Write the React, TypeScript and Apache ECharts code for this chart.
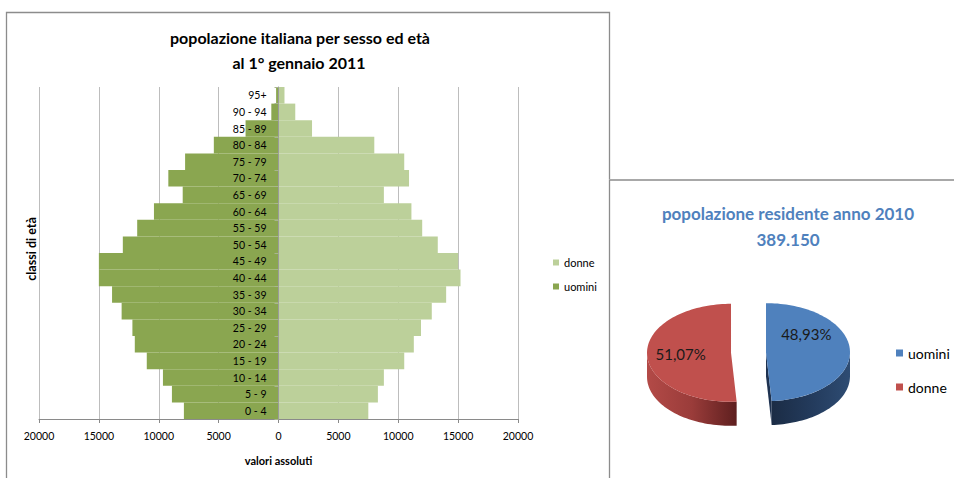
import React, { useEffect, useRef } from 'react';
import * as echarts from 'echarts';

// Age classes, bottom to top
const ageClasses = [
  '0 - 4', '5 - 9', '10 - 14', '15 - 19', '20 - 24', '25 - 29', '30 - 34', '35 - 39',
  '40 - 44', '45 - 49', '50 - 54', '55 - 59', '60 - 64', '65 - 69', '70 - 74', '75 - 79',
  '80 - 84', '85 - 89', '90 - 94', '95+',
];
// Residents per age class (absolute values)
const uomini = [7900, 8900, 9650, 11000, 12000, 12200, 13100, 13900, 15000, 15000, 13000, 11800, 10400, 8000, 9200, 7800, 5400, 2750, 600, 200];
const donne = [7500, 8300, 8800, 10500, 11300, 11900, 12800, 14000, 15200, 15000, 13300, 12000, 11100, 8800, 10900, 10500, 8000, 2800, 1400, 500];

// Value axis range
const axisMin = -20000;
const axisMax = 20000;
const axisStep = 5000;

// Resident population split by sex (%)
const pieNames = ['uomini', 'donne'];
const pieShares = [48.93, 51.07];
const totaleResidenti = '389.150';

const FONT = 'Lato, "Open Sans", "DejaVu Sans", sans-serif';

// plot area of the pyramid, in page pixels
const PLOT_LEFT = 39;
const PLOT_RIGHT = 518;
const PLOT_TOP = 87;
const PLOT_BOTTOM = 419;

function pyramidOption(): any {
  const zeroX = PLOT_LEFT + ((0 - axisMin) / (axisMax - axisMin)) * (PLOT_RIGHT - PLOT_LEFT);
  return {
    animation: false,
    backgroundColor: '#ffffff',
    textStyle: { fontFamily: FONT },
    grid: {
      left: PLOT_LEFT,
      right: 954 - PLOT_RIGHT,
      top: PLOT_TOP,
      bottom: 478 - PLOT_BOTTOM,
      containLabel: false,
      outerBoundsMode: 'none',
    },
    legend: {
      orient: 'vertical',
      left: 553,
      top: 257,
      padding: 0,
      icon: 'rect',
      itemWidth: 6,
      itemHeight: 6,
      itemGap: 13,
      itemTextGap: 4,
      data: ['donne', 'uomini'],
      textStyle: { fontSize: 11, color: '#000', fontFamily: FONT },
    },
    xAxis: {
      type: 'value',
      min: axisMin,
      max: axisMax,
      interval: axisStep,
      axisLine: { show: true, onZero: false, lineStyle: { color: '#8a8a8a', width: 1 } },
      axisTick: { show: true, length: 4, lineStyle: { color: '#8a8a8a' } },
      axisLabel: {
        formatter: (v: number) => String(Math.abs(v)),
        fontSize: 10.5,
        color: '#000',
        margin: 11,
        fontFamily: FONT,
      },
      splitLine: { show: true, lineStyle: { color: '#bdbdbd', width: 1 } },
      name: 'valori assoluti',
      nameLocation: 'middle',
      nameGap: 36,
      nameTextStyle: { fontWeight: 'bold', fontSize: 11, color: '#000', fontFamily: FONT },
    },
    yAxis: {
      type: 'category',
      data: ageClasses,
      position: 'left',
      offset: -(zeroX - PLOT_LEFT),
      z: 5,
      axisLine: { show: true, onZero: false, lineStyle: { color: '#9a9a9a' } },
      axisTick: { show: true, length: 4, lineStyle: { color: '#a8b58f' } },
      axisLabel: { fontSize: 10.5, color: '#000', margin: 12, fontFamily: FONT },
      splitLine: { show: false },
    },
    series: [
      {
        name: 'uomini',
        type: 'bar',
        stack: 'eta',
        barCategoryGap: '0%',
        data: uomini.map((v) => -v),
        itemStyle: { color: '#8AA650' },
      },
      {
        name: 'donne',
        type: 'bar',
        stack: 'eta',
        barCategoryGap: '0%',
        data: donne,
        itemStyle: { color: '#BCD09A' },
      },
    ],
    graphic: [
      {
        type: 'rect',
        shape: { x: 6.5, y: 12.5, width: 603, height: 490 },
        style: { fill: 'none', stroke: '#8c8c8c', lineWidth: 1.3 },
        silent: true,
      },
      {
        type: 'text',
        x: 300,
        y: 37,
        style: {
          text: 'popolazione italiana per sesso ed età',
          align: 'center',
          verticalAlign: 'middle',
          font: `bold 16px ${FONT}`,
          fill: '#000',
        },
      },
      {
        type: 'text',
        x: 299,
        y: 62,
        style: {
          text: 'al 1° gennaio 2011',
          align: 'center',
          verticalAlign: 'middle',
          font: `bold 16px ${FONT}`,
          fill: '#000',
        },
      },
      {
        type: 'text',
        x: 31,
        y: 249,
        rotation: Math.PI / 2,
        style: {
          text: 'classi di età',
          align: 'center',
          verticalAlign: 'middle',
          font: `bold 12.5px ${FONT}`,
          fill: '#000',
        },
      },
    ],
  };
}

// 3D exploded pie geometry (local to the pie panel)
const CX = 140.5;
const CY = 173.5;
const RX = 84;
const RY = 49;
const DEPTH = 24;
const EXPLODE = 17.5;
const DEG = Math.PI / 180;

const topColors = ['#4F81BD', '#C0504D'];
const sideColors = ['#1e3250', '#6a2424'];
const wallStops = [
  [
    { offset: 0, color: '#1b2c45' },
    { offset: 0.55, color: '#243c5e' },
    { offset: 1, color: '#2e4c73' },
  ],
  [
    { offset: 0, color: '#b34a47' },
    { offset: 0.5, color: '#9a3c3a' },
    { offset: 1, color: '#5e1f1f' },
  ],
];
const labelTilt = [-35, 0];

const formatShare = (v: number) => v.toFixed(2).replace('.', ',') + '%';

function sliceRenderer(i: number) {
  return (_params: any, api: any) => {
    const total = pieShares.reduce((s, v) => s + v, 0);
    const before = pieShares.slice(0, i).reduce((s, v) => s + v, 0);
    const share = api.value(0);
    const a0 = (before / total) * 360;
    const a1 = ((before + share) / total) * 360;
    const mid = (a0 + a1) / 2;
    const ox = EXPLODE * Math.sin(mid * DEG);
    const oy = -EXPLODE * Math.cos(mid * DEG) * (RY / RX);
    const P = (a: number, drop: number) => [
      CX + ox + RX * Math.sin(a * DEG),
      CY + oy - RY * Math.cos(a * DEG) + drop,
    ];
    const C = (drop: number) => [CX + ox, CY + oy + drop];
    const arc = (from: number, to: number, drop: number) => {
      const n = Math.max(2, Math.ceil(Math.abs(to - from) / 2));
      const pts: number[][] = [];
      for (let k = 0; k <= n; k++) pts.push(P(from + ((to - from) * k) / n, drop));
      return pts;
    };

    const children: any[] = [];
    // front-facing outer wall
    const w0 = Math.max(a0, 90);
    const w1 = Math.min(a1, 270);
    if (w1 > w0) {
      children.push({
        type: 'polygon',
        shape: { points: [...arc(w0, w1, 0), ...arc(w1, w0, DEPTH)] },
        style: { fill: new echarts.graphic.LinearGradient(0, 0, 1, 0, wallStops[i]) },
      });
    }
    // radial cut faces that turn towards the viewer
    const faces: [number, number][] = [
      [a0, a0 - 90],
      [a1, a1 + 90],
    ];
    faces.forEach(([a, normal]) => {
      if (Math.cos((normal - 180) * DEG) > 0.01) {
        children.push({
          type: 'polygon',
          shape: { points: [C(0), P(a, 0), P(a, DEPTH), C(DEPTH)] },
          style: { fill: sideColors[i] },
        });
      }
    });
    // top face
    children.push({
      type: 'polygon',
      shape: { points: [C(0), ...arc(a0, a1, 0)] },
      style: { fill: topColors[i] },
    });
    // percentage label
    const la = mid + labelTilt[i];
    children.push({
      type: 'text',
      x: CX + ox + 0.6 * RX * Math.sin(la * DEG),
      y: CY + oy - 0.6 * RY * Math.cos(la * DEG),
      style: {
        text: formatShare(share),
        align: 'center',
        verticalAlign: 'middle',
        font: `15px ${FONT}`,
        fill: '#1a1a1a',
      },
    });
    return { type: 'group', children };
  };
}

function pieOption(): any {
  return {
    animation: false,
    backgroundColor: '#ffffff',
    textStyle: { fontFamily: FONT },
    legend: {
      orient: 'vertical',
      left: 288,
      top: 167,
      padding: 0,
      icon: 'rect',
      itemWidth: 7,
      itemHeight: 7,
      itemGap: 20,
      itemTextGap: 3,
      data: pieNames,
      textStyle: { fontSize: 14, color: '#000', fontFamily: FONT },
    },
    series: pieNames.map((name, i) => ({
      type: 'custom',
      name,
      coordinateSystem: 'none',
      itemStyle: { color: topColors[i] },
      data: [{ name, value: pieShares[i] }],
      renderItem: sliceRenderer(i),
    })),
    graphic: [
      {
        type: 'rect',
        shape: { x: 1.5, y: 1, width: 400, height: 400 },
        style: { fill: 'none', stroke: '#8c8c8c', lineWidth: 1.3 },
        silent: true,
      },
      {
        type: 'text',
        x: 180,
        y: 34,
        style: {
          text: 'popolazione residente anno 2010',
          align: 'center',
          verticalAlign: 'middle',
          font: `bold 17px ${FONT}`,
          fill: '#4F81BD',
        },
      },
      {
        type: 'text',
        x: 180,
        y: 60,
        style: {
          text: totaleResidenti,
          align: 'center',
          verticalAlign: 'middle',
          font: `bold 17px ${FONT}`,
          fill: '#4F81BD',
        },
      },
    ],
  };
}

export default function App() {
  const leftRef = useRef<HTMLDivElement>(null);
  const rightRef = useRef<HTMLDivElement>(null);

  useEffect(() => {
    const pyramid = echarts.init(leftRef.current!, null, { renderer: 'svg' });
    pyramid.setOption(pyramidOption());
    const pie = echarts.init(rightRef.current!, null, { renderer: 'svg' });
    pie.setOption(pieOption());
    return () => {
      pyramid.dispose();
      pie.dispose();
    };
  }, []);

  return (
    <div style={{ position: 'fixed', left: 0, top: 0, width: 954, height: 478, background: '#fff' }}>
      <div ref={leftRef} style={{ position: 'absolute', left: 0, top: 0, width: 954, height: 478 }} />
      <div ref={rightRef} style={{ position: 'absolute', left: 608, top: 179, width: 346, height: 299 }} />
    </div>
  );
}
